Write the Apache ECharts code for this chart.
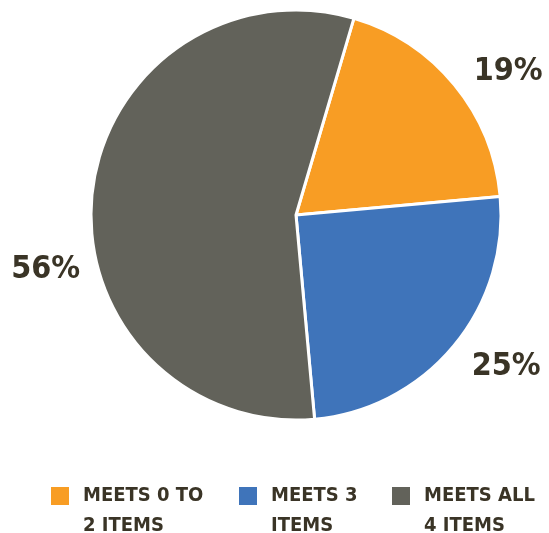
<!DOCTYPE html>
<html>
<head>
<meta charset="utf-8">
<script src="https://cdn.jsdelivr.net/npm/echarts@6/dist/echarts.min.js"></script>
<style>
  html, body { margin: 0; padding: 0; background: #fff; }
  #chart { width: 549px; height: 533px; }
</style>
</head>
<body>
<div id="chart"></div>
<script>
const categories = ['MEETS 0 TO\n2 ITEMS', 'MEETS 3\nITEMS', 'MEETS ALL\n4 ITEMS']
const values = [19, 25, 56]
const colors = ['#F89D24', '#3F74BA', '#62625A']

const font = '"DejaVu Sans Condensed", "Liberation Sans Narrow", Roboto, sans-serif'
const textColor = '#3a3426'

// per-slice label nudges (the original places the 56% label low on the left)
const labelShift = [
  { dx: -5, dy: 3 },
  { dx: -6, dy: 4 },
  { dx: 18, dy: 77 }
]
const legendLeft = [49, 237, 390]

const chart = echarts.init(document.getElementById('chart'))

// leading blank line keeps the first text line level with the swatch
const legends = categories.map((name, i) => ({
  data: [name],
  left: legendLeft[i],
  top: 451,
  padding: 0,
  icon: 'rect',
  itemWidth: 20,
  itemHeight: 20,
  selectedMode: false,
  formatter: n => '\n' + n,
  textStyle: {
    fontFamily: font,
    fontWeight: 'bold',
    fontSize: 20,
    lineHeight: 30,
    color: textColor,
    padding: [0, 0, 0, 8]
  }
}))

chart.setOption({
  animation: false,
  legend: legends,
  series: [{
    type: 'pie',
    center: [296, 215],
    radius: 205,
    startAngle: 73.6,
    clockwise: true,
    itemStyle: {
      borderColor: '#fff',
      borderWidth: 3
    },
    label: {
      show: true,
      position: 'outside',
      formatter: '{c}%',
      overflow: 'none',
      fontFamily: font,
      fontWeight: 'bold',
      fontSize: 32,
      color: textColor
    },
    labelLine: {
      show: false,
      length: 25,
      length2: 0
    },
    labelLayout: function (params) {
      return labelShift[params.dataIndex]
    },
    data: categories.map((name, i) => ({
      name: name,
      value: values[i],
      itemStyle: { color: colors[i] }
    }))
  }]
})
</script>
</body>
</html>
